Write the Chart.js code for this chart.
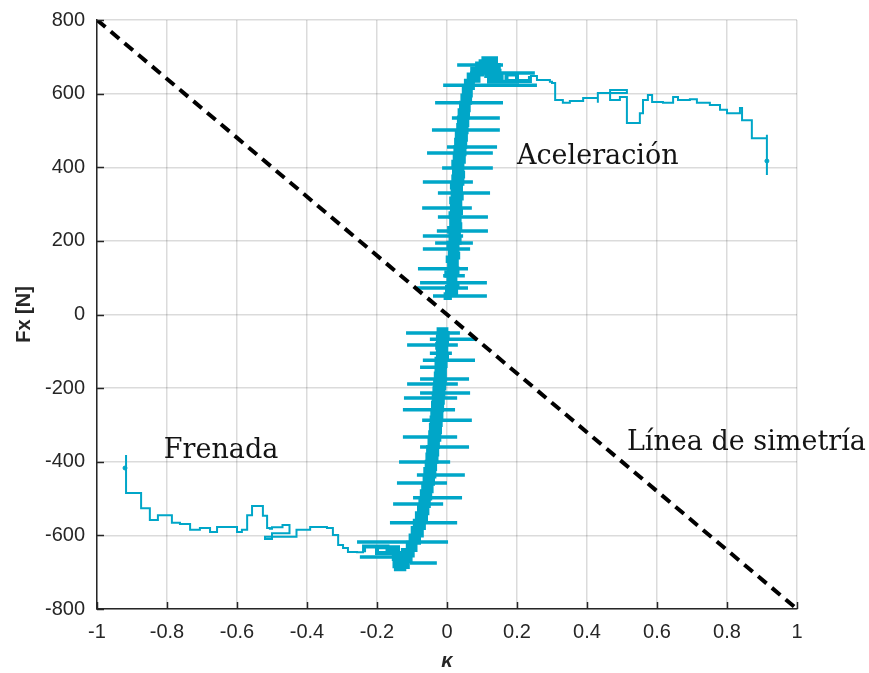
<!DOCTYPE html>
<html>
<head>
<meta charset="utf-8">
<script src="https://cdn.jsdelivr.net/npm/chart.js@4.4.1/dist/chart.umd.min.js"></script>
<style>
html,body{margin:0;padding:0;background:#fff;}
canvas{display:block;}
</style>
</head>
<body>
<canvas id="c" width="869" height="673"></canvas>
<script>
// ---- data ----
const xTicks = [-1,-0.8,-0.6,-0.4,-0.2,0,0.2,0.4,0.6,0.8,1];
const yTicks = [-800,-600,-400,-200,0,200,400,600,800];

// symmetry line
const symKappa = [-1, 1];
const symFx = [800, -800];

// acceleration branch: dense central column + top cluster
const accelSpineKappa = [0.014,-0.004,0.026,0.000,0.030,0.004,0.024,-0.002,0.030,0.006,0.028,0.002,0.032,0.008,0.030,0.004,0.036,0.010,0.034,0.006,0.038,0.012,0.036,0.010,0.040,0.014,0.038,0.012,0.042,0.016,0.040,0.014,0.044,0.018,0.046,0.020,0.044,0.018,0.048,0.022,0.050,0.024,0.052,0.026,0.054,0.028,0.056,0.032,0.058,0.034,0.060,0.036,0.062,0.040,0.066,0.044,0.068,0.048,0.074,0.054,
  0.090,0.062,0.100,0.072,0.112,0.086,0.128,0.104,0.140,0.096,0.148,0.108,0.150,0.112,0.156,0.120,0.200,0.170,0.237];
const accelSpineFx = [45,55,65,75,85,95,105,115,125,135,145,155,165,175,185,195,205,215,225,235,245,255,265,275,285,295,305,315,325,335,345,355,365,375,385,395,405,415,425,435,445,455,465,475,485,495,505,515,525,535,545,555,565,575,585,595,605,615,625,635,
  645,652,660,668,675,682,690,696,688,678,670,662,655,648,640,632,652,634,648];
// acceleration branch: right tail
const accelTailKappa = [0.237,0.257,0.294,0.3,0.309,0.331,0.351,0.389,0.417,0.431,0.431,0.514,0.466,0.494,0.5,0.514,0.543,0.551,0.56,0.574,0.586,0.617,0.646,0.66,0.694,0.714,0.751,0.78,0.8,0.817,0.837,0.843,0.871,0.871,0.914,0.914,0.914];
const accelTailFx = [648,637,632,629,583,575,580,588,588,575,602,610,583,591,591,520,520,547,583,596,577,575,591,583,585,575,569,556,547,547,561,528,528,479,479,488,379];

// braking branch: dense central column + bottom cluster
const brakeSpineKappa = [0.004,-0.024,0.002,-0.026,0.000,-0.028,-0.002,-0.026,0.000,-0.030,-0.004,-0.030,-0.006,-0.032,-0.006,-0.034,-0.008,-0.036,-0.010,-0.038,-0.012,-0.040,-0.014,-0.042,-0.016,-0.044,-0.018,-0.046,-0.020,-0.048,-0.022,-0.050,-0.026,-0.054,-0.028,-0.056,-0.030,-0.058,-0.034,-0.062,-0.036,-0.064,-0.040,-0.068,-0.044,-0.072,-0.048,-0.076,-0.052,-0.080,-0.056,-0.086,-0.060,-0.092,-0.066,-0.098,-0.072,-0.104,-0.080,-0.112,
  -0.090,-0.126,-0.098,-0.136,-0.104,-0.142,-0.112,-0.146,-0.122,-0.150,-0.116,-0.152,-0.124,-0.160,-0.140,-0.200,-0.170,-0.237];
const brakeSpineFx = [-40,-50,-60,-70,-80,-90,-100,-110,-120,-130,-140,-150,-160,-170,-180,-190,-200,-210,-220,-230,-240,-250,-260,-270,-280,-290,-300,-310,-320,-330,-340,-350,-360,-370,-380,-390,-400,-410,-420,-430,-440,-450,-460,-470,-480,-490,-500,-510,-520,-530,-540,-550,-560,-570,-580,-590,-600,-610,-620,-630,
  -640,-648,-655,-662,-670,-678,-686,-692,-684,-674,-664,-656,-648,-640,-632,-648,-630,-646];
// braking branch: left tail
const brakeTailKappa = [-0.237,-0.257,-0.283,-0.297,-0.311,-0.326,-0.343,-0.391,-0.43,-0.52,-0.5,-0.45,-0.47,-0.5,-0.506,-0.514,-0.526,-0.543,-0.557,-0.571,-0.586,-0.6,-0.634,-0.657,-0.677,-0.706,-0.734,-0.763,-0.786,-0.786,-0.826,-0.826,-0.849,-0.849,-0.874,-0.874,-0.917,-0.917];
const brakeTailFx = [-646,-645,-634,-626,-599,-580,-577,-585,-604,-610,-594,-572,-578,-582,-580,-547,-520,-520,-545,-585,-591,-577,-577,-591,-580,-585,-569,-566,-558,-545,-545,-558,-558,-526,-526,-485,-485,-382];

// horizontal excursions around the central column
const spikeFx =   [678,656,623,575,534,501,455,439,398,360,330,289,265,227,213,194,178,124,105,86,72,50,-50,-67,-83,-105,-124,-143,-175,-189,-213,-227,-259,-287,-333,-360,-401,-436,-458,-498,-515,-566,-618,-659,-675];
const spikeKMin = [0.029,0.066,-0.011,-0.034,0.014,-0.043,0.0,-0.057,-0.014,-0.069,-0.026,-0.071,-0.026,-0.029,-0.069,-0.034,-0.069,-0.083,-0.011,-0.077,-0.086,-0.040,-0.117,-0.049,-0.114,-0.049,-0.069,-0.077,-0.077,-0.114,-0.077,-0.123,-0.126,-0.071,-0.126,-0.077,-0.137,-0.086,-0.143,-0.097,-0.154,-0.163,-0.257,-0.249,-0.106];
const spikeKMax = [0.160,0.251,0.257,0.160,0.151,0.151,0.143,0.131,0.131,0.074,0.123,0.071,0.117,0.117,0.046,0.074,0.066,0.060,0.051,0.114,0.060,0.114,0.037,0.086,0.031,0.014,0.080,0.0,0.063,0.031,0.066,0.029,0.023,0.071,0.029,0.063,0.009,0.051,0.0,0.043,-0.011,0.029,0.003,-0.126,-0.029];

// end markers
const endKappa = [0.914, -0.92];
const endFx = [417, -417];

// annotation texts
const noteTexts = ['Aceleración', 'Frenada', 'Línea de simetría'];
const noteKappa = [0.2, -0.809, 0.514];
const noteFx = [428, -371, -349];

// ---- build datasets ----
const pts = (xs, ys) => xs.map((v, i) => ({x: v, y: ys[i]}));
const spikePts = [];
spikeFx.forEach((f, i) => {
  spikePts.push({x: spikeKMin[i], y: f}, {x: spikeKMax[i], y: f}, {x: spikeKMax[i], y: null});
});

const CYAN = '#00a6c8';

const overlay = {
  id: 'overlay',
  afterDraw(chart) {
    const {ctx, chartArea: a, scales: {x, y}} = chart;
    ctx.save();
    ctx.strokeStyle = '#262626';
    ctx.lineWidth = 1.5;
    xTicks.forEach(v => {
      const px = Math.round(x.getPixelForValue(v)) + 0.5;
      ctx.beginPath(); ctx.moveTo(px, a.bottom); ctx.lineTo(px, a.bottom - 7); ctx.stroke();
    });
    yTicks.forEach(v => {
      const py = Math.round(y.getPixelForValue(v)) + 0.5;
      ctx.beginPath(); ctx.moveTo(a.left, py); ctx.lineTo(a.left + 7, py); ctx.stroke();
    });
    ctx.fillStyle = '#141414';
    ctx.textAlign = 'left';
    ctx.textBaseline = 'middle';
    ctx.font = '27px "DejaVu Serif"';
    noteTexts.forEach((t, i) => {
      ctx.fillText(t, x.getPixelForValue(noteKappa[i]), y.getPixelForValue(noteFx[i]));
    });
    ctx.restore();
  }
};

const line = (data, w, extra) => Object.assign({data, showLine: true, borderColor: CYAN, borderWidth: w, pointRadius: 0, fill: false}, extra || {});

new Chart(document.getElementById('c'), {
  type: 'scatter',
  data: {
    datasets: [
      {data: pts(symKappa, symFx), showLine: true, borderColor: '#000', borderWidth: 4, borderDash: [11, 7], pointRadius: 0, fill: false},
      {data: pts(endKappa, endFx), showLine: false, pointRadius: 2, backgroundColor: CYAN, borderColor: CYAN},
      line(spikePts, 3.5, {spanGaps: false}),
      line(pts(accelSpineKappa, accelSpineFx), 4, {stepped: 'before'}),
      line(pts(brakeSpineKappa, brakeSpineFx), 4, {stepped: 'before'}),
      line(pts(accelTailKappa, accelTailFx), 2, {stepped: 'before'}),
      line(pts(brakeTailKappa, brakeTailFx), 2, {stepped: 'before'})
    ]
  },
  options: {
    responsive: false,
    animation: false,
    events: [],
    layout: {autoPadding: false, padding: {left: 0, top: 20, right: 72, bottom: 0}},
    plugins: {legend: {display: false}, tooltip: {enabled: false}},
    scales: {
      x: {
        type: 'linear', min: -1, max: 1,
        afterBuildTicks: s => { s.ticks = xTicks.map(v => ({value: v})); },
        afterFit: s => { s.height = 64; s.paddingLeft = 0; s.paddingRight = 0; },
        grid: {color: 'rgba(0,0,0,0.14)', lineWidth: 1.5, drawTicks: false},
        border: {display: true, color: '#262626', width: 1.5},
        ticks: {padding: 11, color: '#262626', font: {family: '"Liberation Sans", Arial, sans-serif', size: 20}, maxRotation: 0, autoSkip: false,
          callback: v => String(Math.round(v * 10) / 10)},
        title: {display: true, text: 'κ', color: '#262626', padding: {top: 0, bottom: 0},
          font: {family: '"Liberation Sans", Arial, sans-serif', size: 20, weight: 'bold', style: 'italic'}}
      },
      y: {
        type: 'linear', min: -800, max: 800,
        afterBuildTicks: s => { s.ticks = yTicks.map(v => ({value: v})); },
        afterFit: s => { s.width = 97; s.paddingTop = 0; s.paddingBottom = 0; },
        grid: {color: 'rgba(0,0,0,0.14)', lineWidth: 1.5, drawTicks: false},
        border: {display: true, color: '#262626', width: 1.5},
        ticks: {padding: 12, color: '#262626', font: {family: '"Liberation Sans", Arial, sans-serif', size: 20}, autoSkip: false},
        title: {display: true, text: 'Fx [N]', color: '#262626', padding: {top: 12, bottom: 0},
          font: {family: '"Liberation Sans", Arial, sans-serif', size: 20, weight: 'bold'}}
      }
    }
  },
  plugins: [overlay]
});
</script>
</body>
</html>
